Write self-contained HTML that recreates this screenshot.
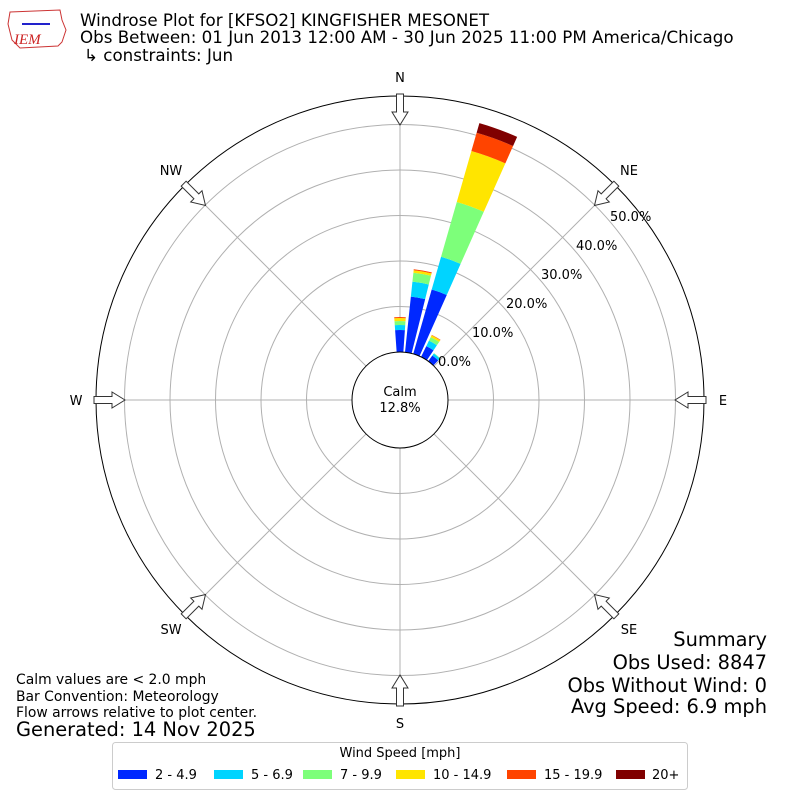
<!DOCTYPE html>
<html><head><meta charset="utf-8"><style>
body{margin:0;background:#fff;width:800px;height:800px;overflow:hidden}
svg{font-family:"DejaVu Sans","Liberation Sans",sans-serif}
</style></head><body>
<svg id="s" width="800" height="800" xmlns="http://www.w3.org/2000/svg">
<rect width="800" height="800" fill="#fff"/>
<g id="grid" stroke="#b0b0b0" stroke-width="1" fill="none"></g>
<g id="bars"></g>
<circle cx="400" cy="400" r="48" fill="#fff" stroke="#000" stroke-width="1"/>
<circle cx="400" cy="400" r="304" fill="none" stroke="#000" stroke-width="1"/>
<g id="arrows" fill="#fff" stroke="#333" stroke-width="1"></g>
<text x="400" y="396" font-size="13" text-anchor="middle">Calm</text>
<text x="400" y="412" font-size="13" text-anchor="middle">12.8%</text>
<g font-size="13" text-anchor="middle">
<text x="400" y="82">N</text><text x="629" y="175">NE</text><text x="723" y="405">E</text>
<text x="629" y="634">SE</text><text x="400" y="728">S</text><text x="171" y="634">SW</text>
<text x="76" y="405">W</text><text x="171" y="175">NW</text>
</g>
<g font-size="13">
<text x="438" y="366">0.0%</text><text x="472" y="337">10.0%</text><text x="506" y="308">20.0%</text>
<text x="541" y="279">30.0%</text><text x="576" y="250">40.0%</text><text x="610" y="221">50.0%</text>
</g>
<g font-size="16.7">
<text x="80" y="26">Windrose Plot for [KFSO2] KINGFISHER MESONET</text>
<text x="80" y="43">Obs Between: 01 Jun 2013 12:00 AM - 30 Jun 2025 11:00 PM America/Chicago</text>
<text x="84" y="61">↳ constraints: Jun</text>
</g>
<g>
<path d="M10 12 L60 10 L62 20 L66 30 L62 42 L58 46 L20 48 L12 40 L8 24 Z" fill="none" stroke="#c33" stroke-width="1"/>
<line x1="22" y1="24" x2="50" y2="24" stroke="#22c" stroke-width="2"/>
<text x="14" y="44" font-family="Liberation Serif,serif" font-style="italic" font-size="15" fill="#c22">IEM</text>
</g>
<g font-size="13.9">
<text x="16" y="684">Calm values are &lt; 2.0 mph</text>
<text x="16" y="701">Bar Convention: Meteorology</text>
<text x="16" y="717">Flow arrows relative to plot center.</text>
<text x="16" y="736" font-size="19.4">Generated: 14 Nov 2025</text>
</g>
<g font-size="19.4" text-anchor="end">
<text x="767" y="646">Summary</text><text x="767" y="669">Obs Used: 8847</text>
<text x="767" y="692">Obs Without Wind: 0</text><text x="767" y="713">Avg Speed: 6.9 mph</text>
</g>
<rect x="112.5" y="742.5" width="575" height="47" rx="3" fill="#fff" stroke="#ccc"/>
<text x="400" y="757" font-size="13" text-anchor="middle">Wind Speed [mph]</text>
<g font-size="13">
<rect x="118" y="770" width="29" height="9" fill="#0028ff"/><text x="155" y="779">2 - 4.9</text>
<rect x="214" y="770" width="29" height="9" fill="#00d4ff"/><text x="251" y="779">5 - 6.9</text>
<rect x="303" y="770" width="29" height="9" fill="#7dff7a"/><text x="340" y="779">7 - 9.9</text>
<rect x="396" y="770" width="29" height="9" fill="#ffe500"/><text x="433" y="779">10 - 14.9</text>
<rect x="507" y="770" width="29" height="9" fill="#ff4400"/><text x="544" y="779">15 - 19.9</text>
<rect x="616" y="770" width="29" height="9" fill="#800000"/><text x="652" y="779">20+</text>
</g>
</svg>
<script>
var NS="http://www.w3.org/2000/svg",cx=400,cy=400;
function el(t,a,p){var e=document.createElementNS(NS,t);for(var k in a)e.setAttribute(k,a[k]);p.appendChild(e);return e;}
function pt(r,deg){var a=deg*Math.PI/180;return [cx+r*Math.sin(a),cy-r*Math.cos(a)];}
var g=document.getElementById('grid');
[93.5,139,184.5,230,275.5].forEach(function(r){el('circle',{cx:cx,cy:cy,r:r},g);});
for(var d=0;d<360;d+=45){var a=pt(48,d),b=pt(304,d);el('line',{x1:a[0],y1:a[1],x2:b[0],y2:b[1]},g);}
var cols=["#0028ff","#00d4ff","#7dff7a","#ffe500","#ff4400","#800000"];
var bars=[[0,[70,75,79,82,83,83]],[10,[104,119,128,130.5,131.5,131.5]],[20,[115,149,206,259,278,288]],[30,[60,66,70,72,72.5,72.5]],[40,[55,57.5,58,58,58,58]]];
var bg=document.getElementById('bars');
bars.forEach(function(b){var c=b[0],r0=48,w=4;
 b[1].forEach(function(r1,i){if(r1<=r0)return;
  var p1=pt(r0,c-w),p2=pt(r1,c-w),p3=pt(r1,c+w),p4=pt(r0,c+w);
  el('path',{d:'M'+p1+' L'+p2+' A'+r1+' '+r1+' 0 0 1 '+p3+' L'+p4+' A'+r0+' '+r0+' 0 0 0 '+p1+' Z',fill:cols[i]},bg);r0=r1;});});
var ag=document.getElementById('arrows');
for(var d=0;d<360;d+=45){
 var pts=[[275,0],[288,8],[288,3.5],[306,3.5],[306,-3.5],[288,-3.5],[288,-8]];
 var s=pts.map(function(q){var a=d*Math.PI/180;var x=cx+q[0]*Math.sin(a)+q[1]*Math.cos(a),y=cy-q[0]*Math.cos(a)+q[1]*Math.sin(a);return x.toFixed(1)+','+y.toFixed(1);}).join(' ');
 el('polygon',{points:s},ag);}
</script>
</body></html>
